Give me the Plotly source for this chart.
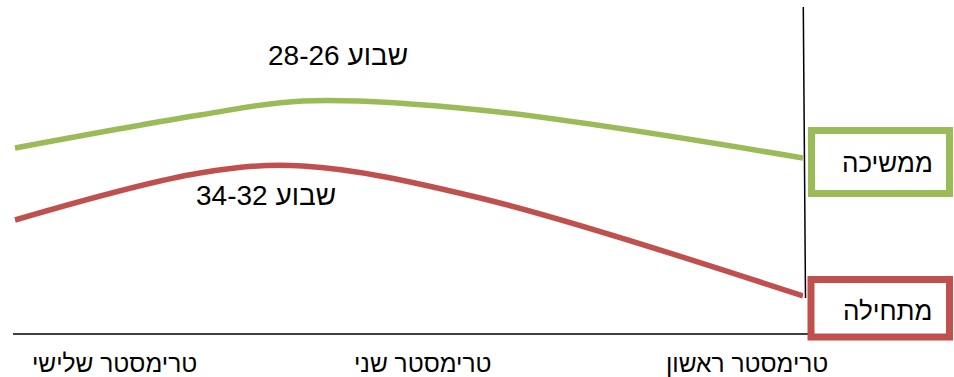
import plotly.graph_objects as go

# ---- data ----
x_pos = [788, 603, 500, 323, 0]
green_vals = [186, 219, 233, 224, 176]
red_vals = [114, 161, 168, 136, 38]

tick_labels = ["טרימסטר ראשון", "טרימסטר שני", "טרימסטר שלישי"]
tick_pos = [56, 380, 689]

series_names = ["ממשיכה", "מתחילה"]
week_labels = ["שבוע 28-26", "שבוע 34-32"]
week_label_x = [465, 537]
week_label_y = [279, 139]

GREEN = "#9BBB59"
RED = "#C0504D"
FONT = "Liberation Sans, Arial, sans-serif"

W, H = 954, 377
L, R, T, B = 14, 151, 7, 43
PW, PH = W - L - R, H - T - B


def px(xp):
    return (xp - L) / PW


def py(yp):
    return (H - B - yp) / PH


fig = go.Figure()
fig.add_trace(go.Scatter(x=x_pos, y=green_vals, mode="lines",
                         line=dict(color=GREEN, width=5.5, shape="spline", smoothing=1.0),
                         name=series_names[0], hoverinfo="skip"))
fig.add_trace(go.Scatter(x=x_pos, y=red_vals, mode="lines",
                         line=dict(color=RED, width=5.5, shape="spline", smoothing=1.0),
                         name=series_names[1], hoverinfo="skip"))

shapes = [
    # bottom axis line
    dict(type="line", xref="paper", yref="paper", x0=px(13), x1=px(808), y0=py(334), y1=py(334),
         line=dict(color="black", width=1.5)),
    # vertical line
    dict(type="line", xref="paper", yref="paper", x0=px(803.3), x1=px(805.5), y0=py(7), y1=py(298),
         line=dict(color="black", width=1.5)),
    # legend boxes
    dict(type="rect", xref="paper", yref="paper", x0=px(811.5), x1=px(949.5), y0=py(193.5), y1=py(130.5),
         line=dict(color=GREEN, width=7), fillcolor="rgba(0,0,0,0)"),
    dict(type="rect", xref="paper", yref="paper", x0=px(811), x1=px(949.5), y0=py(337), y1=py(279.5),
         line=dict(color=RED, width=7), fillcolor="rgba(0,0,0,0)"),
]

annotations = []
for t, xp in zip(tick_labels, tick_pos):
    annotations.append(dict(x=xp, y=py(364), xref="x", yref="paper", text=t, showarrow=False,
                            xanchor="center", yanchor="middle",
                            font=dict(family=FONT, size=24.5, color="black")))
for t, xv, yv in zip(week_labels, week_label_x, week_label_y):
    annotations.append(dict(x=xv, y=yv, xref="x", yref="y", text=t, showarrow=False,
                            xanchor="center", yanchor="middle",
                            font=dict(family=FONT, size=28, color="black")))
for t, yp in zip(series_names, [163, 311]):
    annotations.append(dict(x=px(887), y=py(yp), xref="paper", yref="paper", text=t, showarrow=False,
                            xanchor="center", yanchor="middle",
                            font=dict(family=FONT, size=26, color="black")))

fig.update_layout(
    width=W, height=H,
    margin=dict(l=L, r=R, t=T, b=B, pad=0),
    paper_bgcolor="white", plot_bgcolor="white",
    showlegend=False,
    xaxis=dict(range=[789, 0], showgrid=False, zeroline=False, showline=False,
               showticklabels=False, ticks=""),
    yaxis=dict(range=[0, 327], showgrid=False, zeroline=False, showline=False,
               showticklabels=False, ticks=""),
    shapes=shapes,
    annotations=annotations,
)

fig.write_html("out.html", config={"displayModeBar": False})
